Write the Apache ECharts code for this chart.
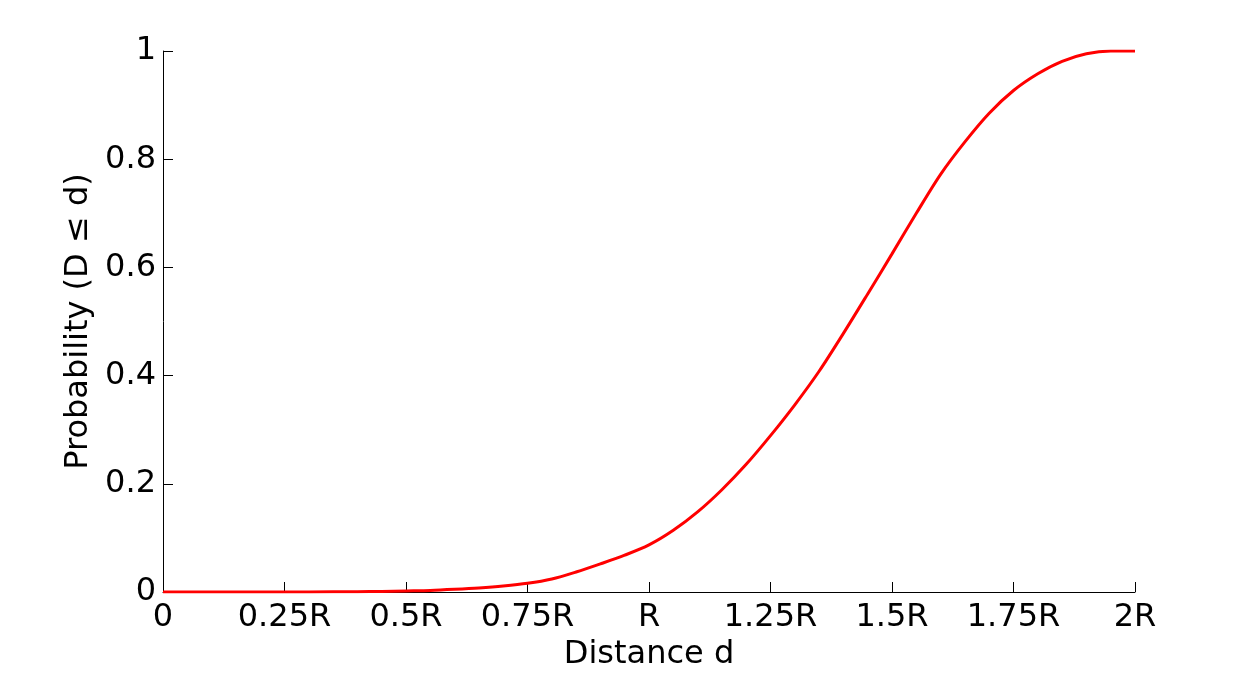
<!DOCTYPE html>
<html>
<head>
<meta charset="utf-8">
<script src="https://cdn.jsdelivr.net/npm/echarts@6/dist/echarts.min.js"></script>
<style>
  html, body { margin: 0; padding: 0; background: #fff; }
  #chart { width: 1254px; height: 682px; }
</style>
</head>
<body>
<div id="chart"></div>
<script>
// distance d in units of R, probability
const distance = [0, 0.1, 0.2, 0.3, 0.4, 0.45, 0.5, 0.55, 0.6, 0.65, 0.7, 0.75, 0.8, 0.85, 0.9, 0.95,
  1.0, 1.05, 1.1, 1.15, 1.2, 1.25, 1.3, 1.35, 1.4, 1.45, 1.5, 1.55, 1.6, 1.65,
  1.7, 1.75, 1.8, 1.85, 1.9, 1.95, 2.0];
const probability = [0, 0, 0, 0.0001, 0.0005, 0.001, 0.002, 0.003, 0.005, 0.0075, 0.011, 0.016, 0.024, 0.037, 0.052, 0.068,
  0.087, 0.114, 0.148, 0.189, 0.236, 0.289, 0.346, 0.408, 0.478, 0.551, 0.625, 0.700, 0.772, 0.832,
  0.885, 0.927, 0.958, 0.981, 0.995, 1.0, 1.0];
const xTickLabels = ["0", "0.25R", "0.5R", "0.75R", "R", "1.25R", "1.5R", "1.75R", "2R"];
const yTickLabels = ["0", "0.2", "0.4", "0.6", "0.8", "1"];

const font = "'DejaVu Sans', sans-serif";
const axisStyle = { color: "#000", width: 1 };

const option = {
  animation: false,
  grid: { left: 163, right: 119, top: 51, bottom: 90, containLabel: false },
  xAxis: {
    type: "value",
    min: 0,
    max: 2,
    interval: 0.25,
    name: "Distance d",
    nameLocation: "middle",
    nameGap: 39,
    nameTextStyle: { color: "#000", fontSize: 32, fontFamily: font },
    axisLine: { show: true, lineStyle: axisStyle },
    axisTick: { show: true, inside: true, length: 10, lineStyle: axisStyle },
    axisLabel: {
      color: "#000", fontSize: 32, fontFamily: font, margin: 10,
      formatter: (v) => xTickLabels[Math.round(v / 0.25)]
    },
    splitLine: { show: false }
  },
  yAxis: {
    type: "value",
    min: 0,
    max: 1,
    interval: 0.2,
    name: "Probability (D \u2264 d)",
    nameLocation: "middle",
    nameGap: 60,
    nameTextStyle: { color: "#000", fontSize: 32, fontFamily: font },
    axisLine: { show: true, lineStyle: axisStyle },
    axisTick: { show: true, inside: true, length: 10, lineStyle: axisStyle },
    axisLabel: {
      color: "#000", fontSize: 32, fontFamily: font, margin: 7,
      formatter: (v) => yTickLabels[Math.round(v / 0.2)]
    },
    splitLine: { show: false }
  },
  series: [{
    type: "line",
    data: distance.map((d, i) => [d, probability[i]]),
    smooth: 0.3,
    showSymbol: false,
    lineStyle: { color: "#ff0000", width: 3 }
  }]
};

const myChart = echarts.init(document.getElementById("chart"));
myChart.setOption(option);
</script>
</body>
</html>
